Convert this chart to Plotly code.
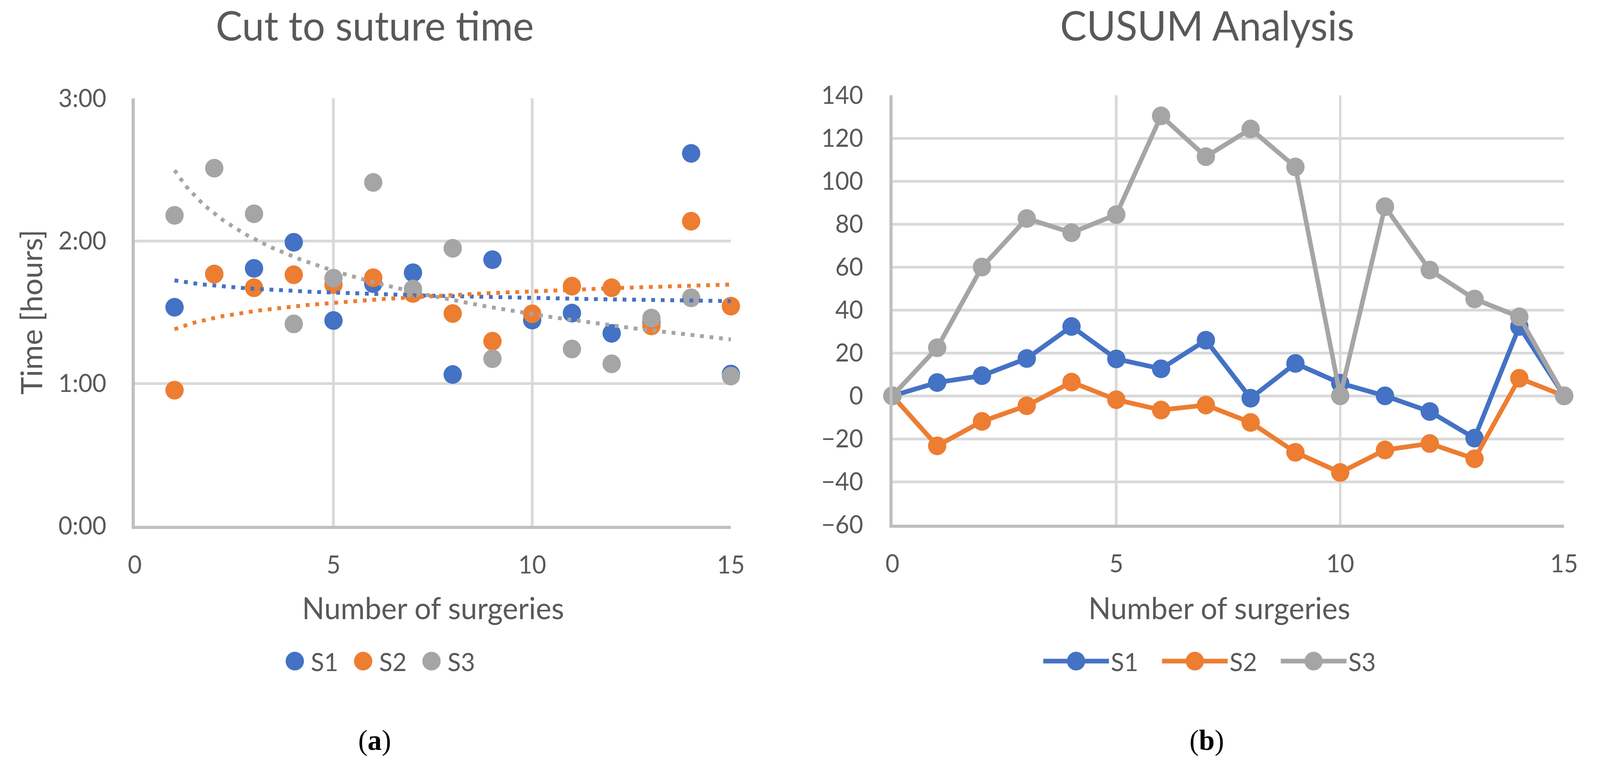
import numpy as np
import plotly.graph_objects as go

# ---------------- data ----------------
surgeries = list(range(1, 16))
s1_time = [1.534, 1.767, 1.807, 1.990, 1.441, 1.700, 1.776, 1.062, 1.868, 1.444, 1.493, 1.351, 1.430, 2.614, 1.065]
s2_time = [0.952, 1.767, 1.671, 1.762, 1.693, 1.741, 1.631, 1.490, 1.296, 1.488, 1.682, 1.671, 1.403, 2.138, 1.542]
s3_time = [2.179, 2.510, 2.190, 1.417, 1.738, 2.410, 1.662, 1.948, 1.173, None, 1.241, 1.137, 1.458, 1.600, 1.051]

cusum_x = list(range(0, 16))
cusum_s1 = [0, 6.2, 9.4, 17.4, 32.3, 17.2, 12.6, 25.9, -1.1, 15.1, 5.9, 0, -7.3, -19.7, 32.3, 0]
cusum_s2 = [0, -23.3, -11.9, -4.6, 6.4, -1.8, -6.6, -4.3, -12.4, -26.3, -35.7, -25.2, -22.2, -29.3, 8.2, 0]
cusum_s3 = [0, 22.4, 60.0, 82.6, 76.0, 84.4, 130.4, 111.4, 124.3, 106.6, 0, 88.1, 58.6, 45.1, 36.8, 0]

series_names = ["S1", "S2", "S3"]
time_ticks = [0, 1, 2, 3]
time_labels = ["0:00", "1:00", "2:00", "3:00"]
cusum_ticks = list(range(-60, 141, 20))
x_ticks = [0, 5, 10, 15]

colors = ["#4472C4", "#ED7D31", "#A5A5A5"]
TXT = "#595959"
GRID = "#D9D9D9"
AXL = "#BFBFBF"
FONT = "Lato"
W, H = 4190, 1975

fig = go.Figure()

# ---- left: scatter ----
time_series = [s1_time, s2_time, s3_time]
for name, ys, c in zip(series_names, time_series, colors):
    fig.add_trace(go.Scatter(
        x=surgeries, y=ys, mode="markers", name=name,
        marker=dict(color=c, size=48, line=dict(width=0)),
        xaxis="x", yaxis="y", legend="legend", cliponaxis=False))

# logarithmic trendlines (least squares fit of y = a + b ln x), like the spreadsheet
for name, ys, c in zip(series_names, time_series, colors):
    xa = np.array([x for x, y in zip(surgeries, ys) if y is not None], float)
    ya = np.array([y for y in ys if y is not None], float)
    b, a = np.polyfit(np.log(xa), ya, 1)
    xs = np.linspace(xa.min(), xa.max(), 200)
    fig.add_trace(go.Scatter(
        x=xs, y=a + b * np.log(xs), mode="lines", showlegend=False,
        line=dict(color=c, width=10, dash="10px,15px"),
        xaxis="x", yaxis="y", hoverinfo="skip"))

# ---- right: CUSUM ----
cusum_series = [cusum_s1, cusum_s2, cusum_s3]
for name, ys, c in zip(series_names, cusum_series, colors):
    fig.add_trace(go.Scatter(
        x=cusum_x, y=ys, mode="lines+markers", name=name,
        line=dict(color=c, width=12),
        marker=dict(color=c, size=48),
        xaxis="x2", yaxis="y2", legend="legend2", cliponaxis=False))

axis_common = dict(
    showgrid=True, gridcolor=GRID, gridwidth=7,
    showline=True, linecolor=AXL, linewidth=8,
    zeroline=False, ticks="",
    tickfont=dict(family=FONT, size=63, color=TXT),
)

fig.update_layout(
    width=W, height=H,
    margin=dict(l=0, r=0, t=0, b=0, autoexpand=False),
    paper_bgcolor="white", plot_bgcolor="white",
    font=dict(family=FONT, color=TXT),
    xaxis=dict(domain=[353 / W, 1914 / W], range=[0, 15], tickvals=x_ticks,
               anchor="y", ticklabelstandoff=38, **axis_common),
    yaxis=dict(domain=[1 - 1347 / H, 1 - 252 / H], range=[0, 3], tickvals=time_ticks,
               ticktext=time_labels, anchor="x", ticklabelstandoff=54, **axis_common),
    xaxis2=dict(domain=[2337 / W, 4096 / W], range=[0, 15], tickvals=x_ticks,
                anchor="y2", ticklabelstandoff=38, **axis_common),
    yaxis2=dict(domain=[1 - 1344 / H, 1 - 244 / H], range=[-60, 140], tickvals=cusum_ticks,
                anchor="x2", ticklabelstandoff=56, **axis_common),
    legend=dict(orientation="h", x=730 / W, xanchor="left", y=1 - 1694 / H, yanchor="middle",
                font=dict(family=FONT, size=64, color=TXT), itemwidth=74, entrywidth=90,
                bgcolor="rgba(0,0,0,0)"),
    legend2=dict(orientation="h", x=2727 / W, xanchor="left", y=1 - 1694 / H, yanchor="middle",
                 font=dict(family=FONT, size=64, color=TXT), itemwidth=172, entrywidth=124,
                 bgcolor="rgba(0,0,0,0)"),
    showlegend=True,
)

ann = []
ann.append(dict(text="Cut to suture time", x=982 / W, y=1 - 64 / H, xref="paper", yref="paper",
                xanchor="center", yanchor="middle", showarrow=False,
                font=dict(family=FONT, size=104, color=TXT)))
ann.append(dict(text="CUSUM Analysis", x=3161 / W, y=1 - 64 / H, xref="paper", yref="paper",
                xanchor="center", yanchor="middle", showarrow=False,
                font=dict(family=FONT, size=104, color=TXT)))
ann.append(dict(text="Time [hours]", x=80 / W, y=1 - 800 / H, xref="paper", yref="paper",
                xanchor="center", yanchor="middle", showarrow=False, textangle=-90,
                font=dict(family=FONT, size=77, color=TXT)))
ann.append(dict(text="Number of surgeries", x=1134 / W, y=1 - 1556 / H, xref="paper", yref="paper",
                xanchor="center", yanchor="middle", showarrow=False,
                font=dict(family=FONT, size=77, color=TXT)))
ann.append(dict(text="Number of surgeries", x=3193 / W, y=1 - 1556 / H, xref="paper", yref="paper",
                xanchor="center", yanchor="middle", showarrow=False,
                font=dict(family=FONT, size=77, color=TXT)))
ann.append(dict(text="(<b>a</b>)", x=981 / W, y=1 - 1896 / H, xref="paper", yref="paper",
                xanchor="center", yanchor="middle", showarrow=False,
                font=dict(family="Liberation Serif", size=74, color="black")))
ann.append(dict(text="(<b>b</b>)", x=3160 / W, y=1 - 1896 / H, xref="paper", yref="paper",
                xanchor="center", yanchor="middle", showarrow=False,
                font=dict(family="Liberation Serif", size=74, color="black")))
fig.update_layout(annotations=ann)

post = (
    "(function(){"
    "var de=document.documentElement, bd=document.body;"
    "de.style.margin='0'; bd.style.margin='0'; bd.style.padding='0';"
    "de.style.overflow='hidden'; bd.style.overflow='hidden';"
    "var gd=document.getElementById('{plot_id}');"
    "var sx=window.innerWidth/%d, sy=window.innerHeight/%d;"
    "gd.style.transformOrigin='0 0';"
    "gd.style.transform='scale('+sx+','+sy+')';"
    # enlarge legend swatches (plotly caps their size) to the size used in the reference
    "gd.querySelectorAll('.legendpoints .scatterpts').forEach(function(p){"
    "var t=p.getAttribute('transform')||''; p.setAttribute('transform', t+' scale(3)');});"
    "gd.querySelectorAll('.legendlines path').forEach(function(p){p.style.strokeWidth='12px';});"
    "})();" % (W, H)
)

fig.write_html("out.html", config={"displayModeBar": False}, post_script=post)
